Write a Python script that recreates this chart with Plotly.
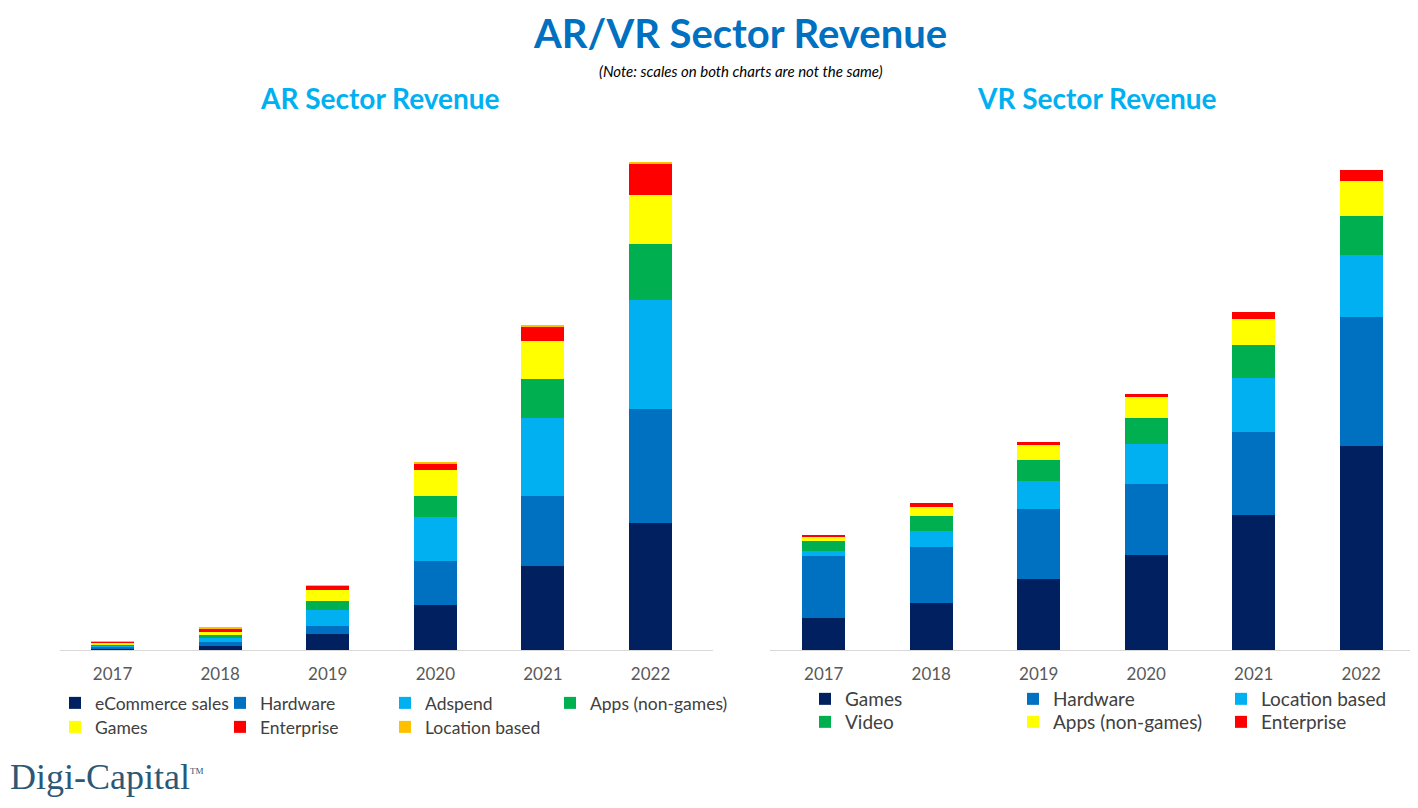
import plotly.graph_objects as go

# ---------------- data (US$ billions) ----------------
years = ["2017", "2018", "2019", "2020", "2021", "2022"]

ar_series = ["eCommerce sales", "Hardware", "Adspend", "Apps (non-games)",
             "Games", "Enterprise", "Location based"]
ar_ecommerce = [0.1, 0.7, 3.0, 8.3, 15.6, 23.5]
ar_hardware = [0.5, 0.7, 1.5, 8.1, 13.0, 21.1]
ar_adspend = [0.2, 0.9, 3.0, 8.3, 14.4, 20.2]
ar_apps = [0.1, 0.4, 1.5, 3.9, 7.2, 10.4]
ar_games = [0.5, 0.7, 2.2, 4.8, 7.0, 9.1]
ar_enterprise = [0.1, 0.6, 0.7, 1.1, 2.6, 5.7]
ar_location = [0.05, 0.1, 0.1, 0.2, 0.4, 0.4]

vr_series = ["Games", "Hardware", "Location based", "Video",
             "Apps (non-games)", "Enterprise"]
vr_games = [1.00, 1.47, 2.22, 2.97, 4.22, 6.38]
vr_hardware = [1.94, 1.75, 2.19, 2.22, 2.59, 4.03]
vr_location = [0.16, 0.50, 0.88, 1.25, 1.69, 1.94]
vr_video = [0.31, 0.47, 0.66, 0.81, 1.03, 1.22]
vr_apps = [0.13, 0.28, 0.47, 0.66, 0.81, 1.09]
vr_enterprise = [0.06, 0.13, 0.09, 0.09, 0.22, 0.34]

# ---------------- styles ----------------
NAVY, BLUE, CYAN, GREEN, YELLOW, RED, ORANGE = (
    "#002060", "#0070C0", "#00B0F0", "#00B050", "#FFFF00", "#FF0000", "#FFC000")
FONT = "Lato, 'Open Sans', sans-serif"

ar_values = [ar_ecommerce, ar_hardware, ar_adspend, ar_apps,
             ar_games, ar_enterprise, ar_location]
ar_colors = [NAVY, BLUE, CYAN, GREEN, YELLOW, RED, ORANGE]
ar_legend = ["legend", "legend", "legend", "legend",
             "legend2", "legend2", "legend2"]
ar_entry = [120, 120, 120, 150, 120, 120, 130]

vr_values = [vr_games, vr_hardware, vr_location, vr_video, vr_apps, vr_enterprise]
vr_colors = [NAVY, BLUE, CYAN, GREEN, YELLOW, RED]
vr_legend = ["legend3", "legend3", "legend3", "legend4", "legend4", "legend4"]
vr_entry = [163, 163, 130, 163, 163, 130]

# page body has an 8px margin: lay the figure out in window pixels minus that
OFF = 8
W, H = 1410, 800


def px(x):
    return (x - OFF) / W


def py(y):
    return (H - (y - OFF)) / H


fig = go.Figure()
for name, vals, col, lg, ew in zip(ar_series, ar_values, ar_colors, ar_legend, ar_entry):
    fig.add_trace(go.Bar(x=years, y=vals, name=name, marker_color=col,
                         marker_line_width=0, xaxis="x", yaxis="y",
                         legend=lg, width=0.4, legendwidth=ew))
for name, vals, col, lg, ew in zip(vr_series, vr_values, vr_colors, vr_legend, vr_entry):
    fig.add_trace(go.Bar(x=years, y=vals, name=name, marker_color=col,
                         marker_line_width=0, xaxis="x2", yaxis="y2",
                         legend=lg, width=0.4, legendwidth=ew))

axis_common = dict(showgrid=False, zeroline=False, showline=True,
                   linecolor="#D9D9D9", linewidth=1, ticks="",
                   tickfont=dict(family=FONT, size=17, color="#595959"),
                   ticklabelstandoff=9, type="category", fixedrange=True)
yaxis_common = dict(showgrid=False, zeroline=False, showline=False,
                    showticklabels=False, fixedrange=True)


def legend_cfg(x, y, size):
    return dict(orientation="h", x=x, y=y, xanchor="left", yanchor="middle",
                font=dict(family=FONT, size=size, color="#404040"),
                itemwidth=30, entrywidthmode="pixels",
                traceorder="normal", bgcolor="rgba(0,0,0,0)",
                itemclick=False, itemdoubleclick=False)


fig.update_layout(
    width=W, height=H,
    margin=dict(l=0, r=0, t=0, b=0),
    paper_bgcolor="white", plot_bgcolor="white",
    barmode="stack",
    xaxis=dict(domain=[px(60), px(713)], range=[-0.488, 5.58], anchor="y",
               **axis_common),
    yaxis=dict(domain=[py(650), py(150)], range=[0, 500 / 5.4], anchor="x",
               **yaxis_common),
    xaxis2=dict(domain=[px(770), px(1415)], range=[-0.5, 5.5], anchor="y2",
                **axis_common),
    yaxis2=dict(domain=[py(650), py(150)], range=[0, 500 / 32], anchor="x2",
                **yaxis_common),
    legend=legend_cfg(px(55), py(703), 17.5),
    legend2=legend_cfg(px(55), py(727), 17.5),
    legend3=legend_cfg(px(805), py(699), 19),
    legend4=legend_cfg(px(805), py(722), 19),
    annotations=[
        dict(text="<b>AR/VR Sector Revenue</b>", x=px(740), y=1,
             xref="paper", yref="paper", showarrow=False,
             xanchor="center", yanchor="top", borderpad=0,
             font=dict(family=FONT, size=40, color="#0070C0")),
        dict(text="<i>(Note: scales on both charts are not the same)</i>",
             x=px(741), y=py(71), xref="paper", yref="paper",
             showarrow=False, xanchor="center", yanchor="middle",
             borderpad=0,
             font=dict(family=FONT, size=15, color="#000000")),
        dict(text="<b>AR Sector Revenue</b>", x=px(380), y=py(98),
             xref="paper", yref="paper", showarrow=False,
             xanchor="center", yanchor="middle",
             font=dict(family=FONT, size=28, color="#00B0F0")),
        dict(text="<b>VR Sector Revenue</b>", x=px(1097), y=py(98),
             xref="paper", yref="paper", showarrow=False,
             xanchor="center", yanchor="middle",
             font=dict(family=FONT, size=28, color="#00B0F0")),
        dict(text="Digi-Capital<sup><span style='font-size:9px'>TM</span></sup>",
             x=0, y=py(777), xref="paper", yref="paper", showarrow=False,
             xanchor="left", yanchor="middle",
             font=dict(family="'Liberation Serif', serif", size=36,
                       color="#2B5876")),
    ],
)

fig.write_html("out.html")
